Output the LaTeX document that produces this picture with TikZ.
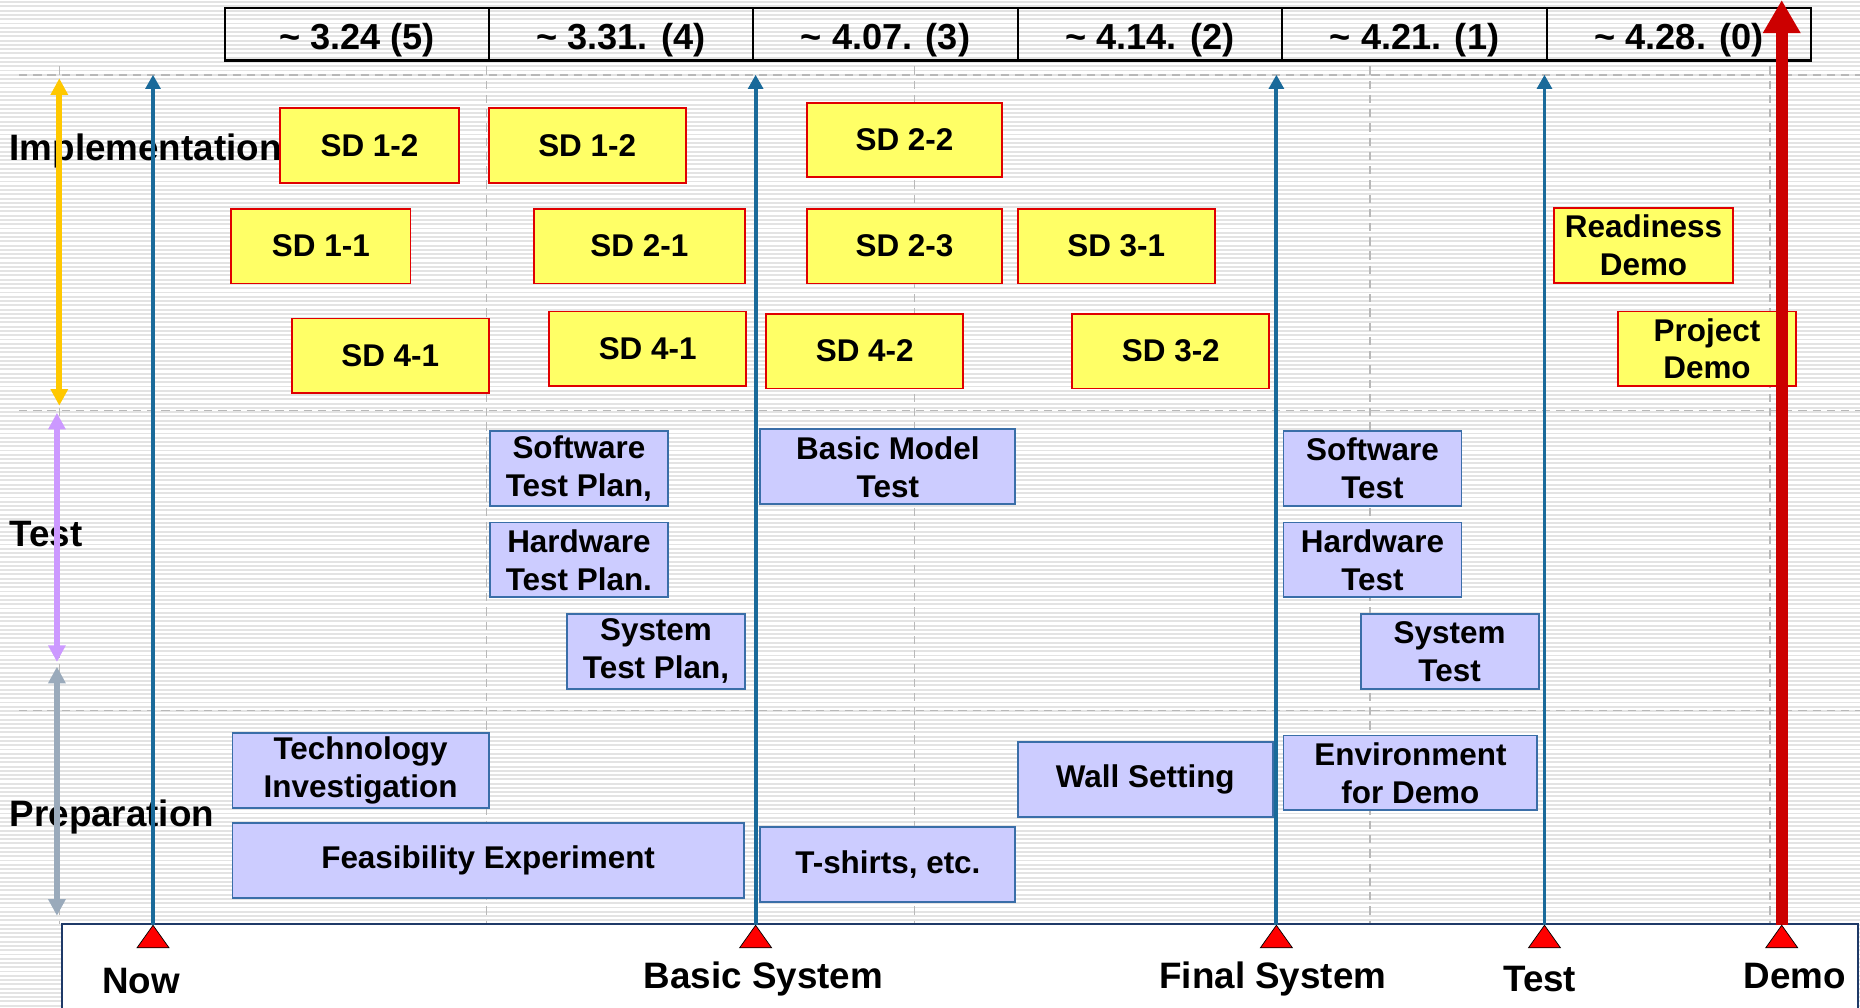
\documentclass[tikz,border=0pt]{standalone}
\usepackage{fontspec}
\setmainfont{Liberation Sans}
\usepackage{xcolor}
\usetikzlibrary{arrows.meta}

\definecolor{sdfill}{HTML}{FFFF66}
\definecolor{sdline}{HTML}{E00000}
\definecolor{tfill}{HTML}{CCCCFF}
\definecolor{tline}{HTML}{3A6EA8}
\definecolor{msblue}{HTML}{1A6A9A}
\definecolor{demored}{HTML}{CC0000}
\definecolor{implcol}{HTML}{FFC800}
\definecolor{testcol}{HTML}{CC99FF}
\definecolor{prepcol}{HTML}{9AAABB}
\definecolor{boxnavy}{HTML}{1F3A68}

\newcommand\boxfont{\fontsize{26.5}{32}\selectfont\bfseries}
\newcommand\labelfont{\fontsize{31}{32}\selectfont\bfseries}
\newcommand\weekfont{\fontsize{30.5}{31}\selectfont\bfseries}

\begin{document}
\begin{tikzpicture}[x=1pt,y=-1pt,>={Triangle[width=12.5pt,length=12pt]},
  sdbox/.style={draw=sdline,line width=1.5pt,fill=sdfill,inner sep=0pt,minimum height=63pt,align=center,font=\boxfont},
  tbox/.style={draw=tline,line width=1.6pt,fill=tfill,inner sep=0pt,minimum height=63pt,align=center,font=\boxfont},
  week/.style={draw=black,line width=1.8pt,minimum width=223pt,minimum height=44pt,inner sep=0pt,text height=26pt,text depth=0pt,font=\weekfont},
  phase/.style={anchor=west,inner sep=0pt,font=\labelfont},
  mslabel/.style={inner sep=0pt,font=\labelfont},
  gridline/.style={black!28,line width=1.3pt,dash pattern=on 7pt off 5pt},
  stripe/.style={black!11,line width=1.6pt},
  msline/.style={->,msblue,line width=3.2pt},
  mstri/.style={fill=red,draw=black,line width=0.6pt},
  phaserange/.style={{Triangle[width=14pt,length=14pt]}-{Triangle[width=14pt,length=14pt]},line width=5pt}]

\useasboundingbox (0,0) rectangle (1568,849);

% background stripes
\foreach \i in {0,...,235}
  \draw[stripe] (0,{\i*3.6+1.8}) -- (1568,{\i*3.6+1.8});

% grid
\foreach \gx in {50,410,771,1155,1492}
  \draw[gridline] (\gx,56) -- (\gx,779);
\foreach \gy in {63,346,599}
  \draw[gridline] (16,\gy) -- (1568,\gy);

% milestone strip
\draw[boxnavy,line width=1.8pt,fill=white] (52,779) rectangle (1566,870);

% weeks
\node[week] (w5) at (301,29) {\textasciitilde{} 3.24 (5)};
\node[week] (w4) at (523.5,29) {\textasciitilde{} 3.31. (4)};
\node[week] (w3) at (746.5,29) {\textasciitilde{} 4.07. (3)};
\node[week] (w2) at (969.5,29) {\textasciitilde{} 4.14. (2)};
\node[week] (w1) at (1192.5,29) {\textasciitilde{} 4.21. (1)};
\node[week] (w0) at (1415.5,29) {\textasciitilde{} 4.28. (0)};

% phases
\node[phase] (impl) at (8,127) {Implementation};
\node[phase] (test) at (8,450) {Test};
\node[phase] (prep) at (8,689) {Preparation};

% implementation
\node[sdbox,minimum width=151pt] (sd12a) at (311.5,122.5) {SD 1-2};
\node[sdbox,minimum width=166pt] (sd12b) at (495,122.5) {SD 1-2};
\node[sdbox,minimum width=165pt] (sd22) at (762.5,118) {SD 2-2};
\node[sdbox,minimum width=151pt] (sd11) at (270.5,207.5) {SD 1-1};
\node[sdbox,minimum width=178pt] (sd21) at (539,207.5) {SD 2-1};
\node[sdbox,minimum width=165pt] (sd23) at (762.5,207.5) {SD 2-3};
\node[sdbox,minimum width=166pt] (sd31) at (941,207.5) {SD 3-1};
\node[sdbox,minimum width=151pt] (ready) at (1385.5,207) {Readiness\\Demo};
\node[sdbox,minimum width=166pt] (sd41a) at (329,300) {SD 4-1};
\node[sdbox,minimum width=166pt] (sd41b) at (546,294) {SD 4-1};
\node[sdbox,minimum width=166pt] (sd42) at (729,296) {SD 4-2};
\node[sdbox,minimum width=166pt] (sd32) at (987,296) {SD 3-2};
\node[sdbox,minimum width=150pt] (project) at (1439,294) {Project\\Demo};

% test
\node[tbox,minimum width=150pt] (swplan) at (488,395) {Software\\Test Plan,};
\node[tbox,minimum width=215pt] (basicmodel) at (748.5,393.5) {Basic Model\\Test};
\node[tbox,minimum width=150pt] (swtest) at (1157,395) {Software\\Test};
\node[tbox,minimum width=150pt] (hwplan) at (488,472) {Hardware\\Test Plan.};
\node[tbox,minimum width=150pt] (hwtest) at (1157,472) {Hardware\\Test};
\node[tbox,minimum width=150pt] (sysplan) at (553,549) {System\\Test Plan,};
\node[tbox,minimum width=150pt] (systest) at (1222,549) {System\\Test};

% preparation
\node[tbox,minimum width=216pt] (techinv) at (304,649.5) {Technology\\Investigation};
\node[tbox,minimum width=215pt] (wall) at (965.5,657) {Wall Setting};
\node[tbox,minimum width=214pt] (envdemo) at (1189,651.5) {Environment\\for Demo};
\node[tbox,minimum width=431pt] (feas) at (411.5,725.5) {Feasibility Experiment};
\node[tbox,minimum width=215pt] (tshirt) at (748.5,729) {T-shirts, etc.};

% phase ranges
\coordinate (impltop) at (50,66);
\coordinate (implbot) at (50,342);
\coordinate (testtop) at (48,348);
\coordinate (testbot) at (48,558);
\coordinate (preptop) at (48,562);
\coordinate (prepbot) at (48,772);
\draw[phaserange,implcol] (impltop) -- (implbot);
\draw[phaserange,testcol] (testtop) -- (testbot);
\draw[phaserange,prepcol] (preptop) -- (prepbot);

% milestones
\coordinate (top) at (0,63);
\coordinate (sky) at (0,0);
\coordinate (now) at (129,780);
\coordinate (basic) at (637,780);
\coordinate (final) at (1076,780);
\coordinate (testms) at (1302,780);
\coordinate (demo) at (1502,780);

\foreach \ms in {now,basic,final,testms}
  \draw[msline] (\ms) -- (\ms |- top);
\draw[-{Triangle[width=30pt,length=28pt]},demored,line width=10pt] (demo) -- (demo |- sky);

\foreach \ms in {now,basic,final,testms,demo}
  \draw[mstri] (\ms) ++(-13.5,19) -- (\ms) -- ++(13.5,19) -- cycle;

\node[mslabel] (nowlbl) at (119,827) {Now};
\node[mslabel] (basiclbl) at (643.5,825) {Basic System};
\node[mslabel] (finallbl) at (1073,825) {Final System};
\node[mslabel] (testlbl) at (1298,825) {Test};
\node[mslabel] (demolbl) at (1513,823) {Demo};

\end{tikzpicture}
\end{document}
